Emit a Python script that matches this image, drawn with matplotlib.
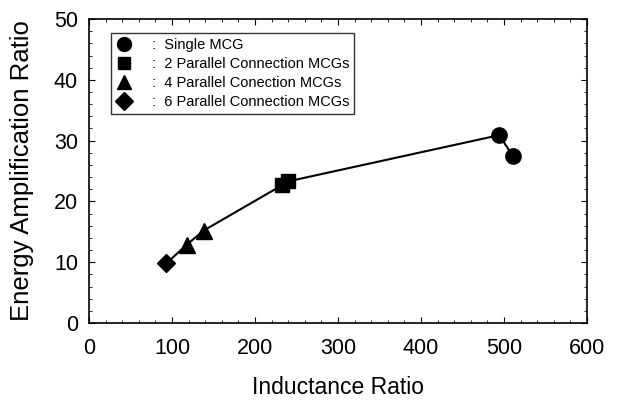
import matplotlib
matplotlib.use("Agg")
import matplotlib.pyplot as plt
from matplotlib.ticker import MultipleLocator
from matplotlib.lines import Line2D

plt.rcParams['font.family'] = ['Liberation Sans', 'DejaVu Sans']

# data (x: inductance ratio, y: energy amplification ratio)
single_x = [494, 511]
single_y = [30.9, 27.4]
par2_x = [233, 240]
par2_y = [22.7, 23.3]
par4_x = [118, 138]
par4_y = [12.9, 15.2]
par6_x = [93]
par6_y = [9.8]

labels = [":  Single MCG", ":  2 Parallel Connection MCGs",
          ":  4 Parallel Conection MCGs", ":  6 Parallel Connection MCGs"]

fig = plt.figure(figsize=(6.18, 4.01), dpi=100)
ax = fig.add_axes([0.144, 0.1945, 0.806, 0.758])

all_x = par6_x + par4_x + par2_x + single_x
all_y = par6_y + par4_y + par2_y + single_y
ax.plot(all_x, all_y, color='black', lw=1.5, zorder=2)

ax.plot(single_x, single_y, 'o', color='black', ms=11, zorder=3)
ax.plot(par2_x, par2_y, 's', color='black', ms=10, zorder=3)
ax.plot(par4_x, par4_y, '^', color='black', ms=11, zorder=3)
ax.plot(par6_x, par6_y, 'D', color='black', ms=9.5, zorder=3)

ax.set_xlim(0, 600)
ax.set_ylim(0, 50)
ax.xaxis.set_major_locator(MultipleLocator(100))
ax.xaxis.set_minor_locator(MultipleLocator(20))
ax.yaxis.set_major_locator(MultipleLocator(10))
ax.yaxis.set_minor_locator(MultipleLocator(2))
ax.tick_params(which='both', direction='in', top=True, right=True, labelsize=15.5)
ax.tick_params(which='major', length=4)
ax.tick_params(which='minor', length=2.5)
ax.tick_params(axis='x', pad=11)
ax.tick_params(axis='y', pad=8)
for s in ax.spines.values():
    s.set_linewidth(1.2)

ax.set_xlabel("Inductance Ratio", fontsize=16.5, labelpad=12)
ax.set_ylabel("Energy Amplification Ratio", fontsize=18.5, labelpad=14)

handles = [Line2D([], [], marker='o', color='black', ls='none', ms=10),
           Line2D([], [], marker='s', color='black', ls='none', ms=9),
           Line2D([], [], marker='^', color='black', ls='none', ms=10),
           Line2D([], [], marker='D', color='black', ls='none', ms=9)]
leg = ax.legend(handles, labels, loc='upper left', bbox_to_anchor=(0.045, 0.955),
                fontsize=10.5, frameon=True, fancybox=False, edgecolor='black',
                handletextpad=1.4, labelspacing=0.35, borderpad=0.35,
                handlelength=1.0, borderaxespad=0)
leg.get_frame().set_linewidth(1.0)

fig.savefig("out.png", dpi=100)
